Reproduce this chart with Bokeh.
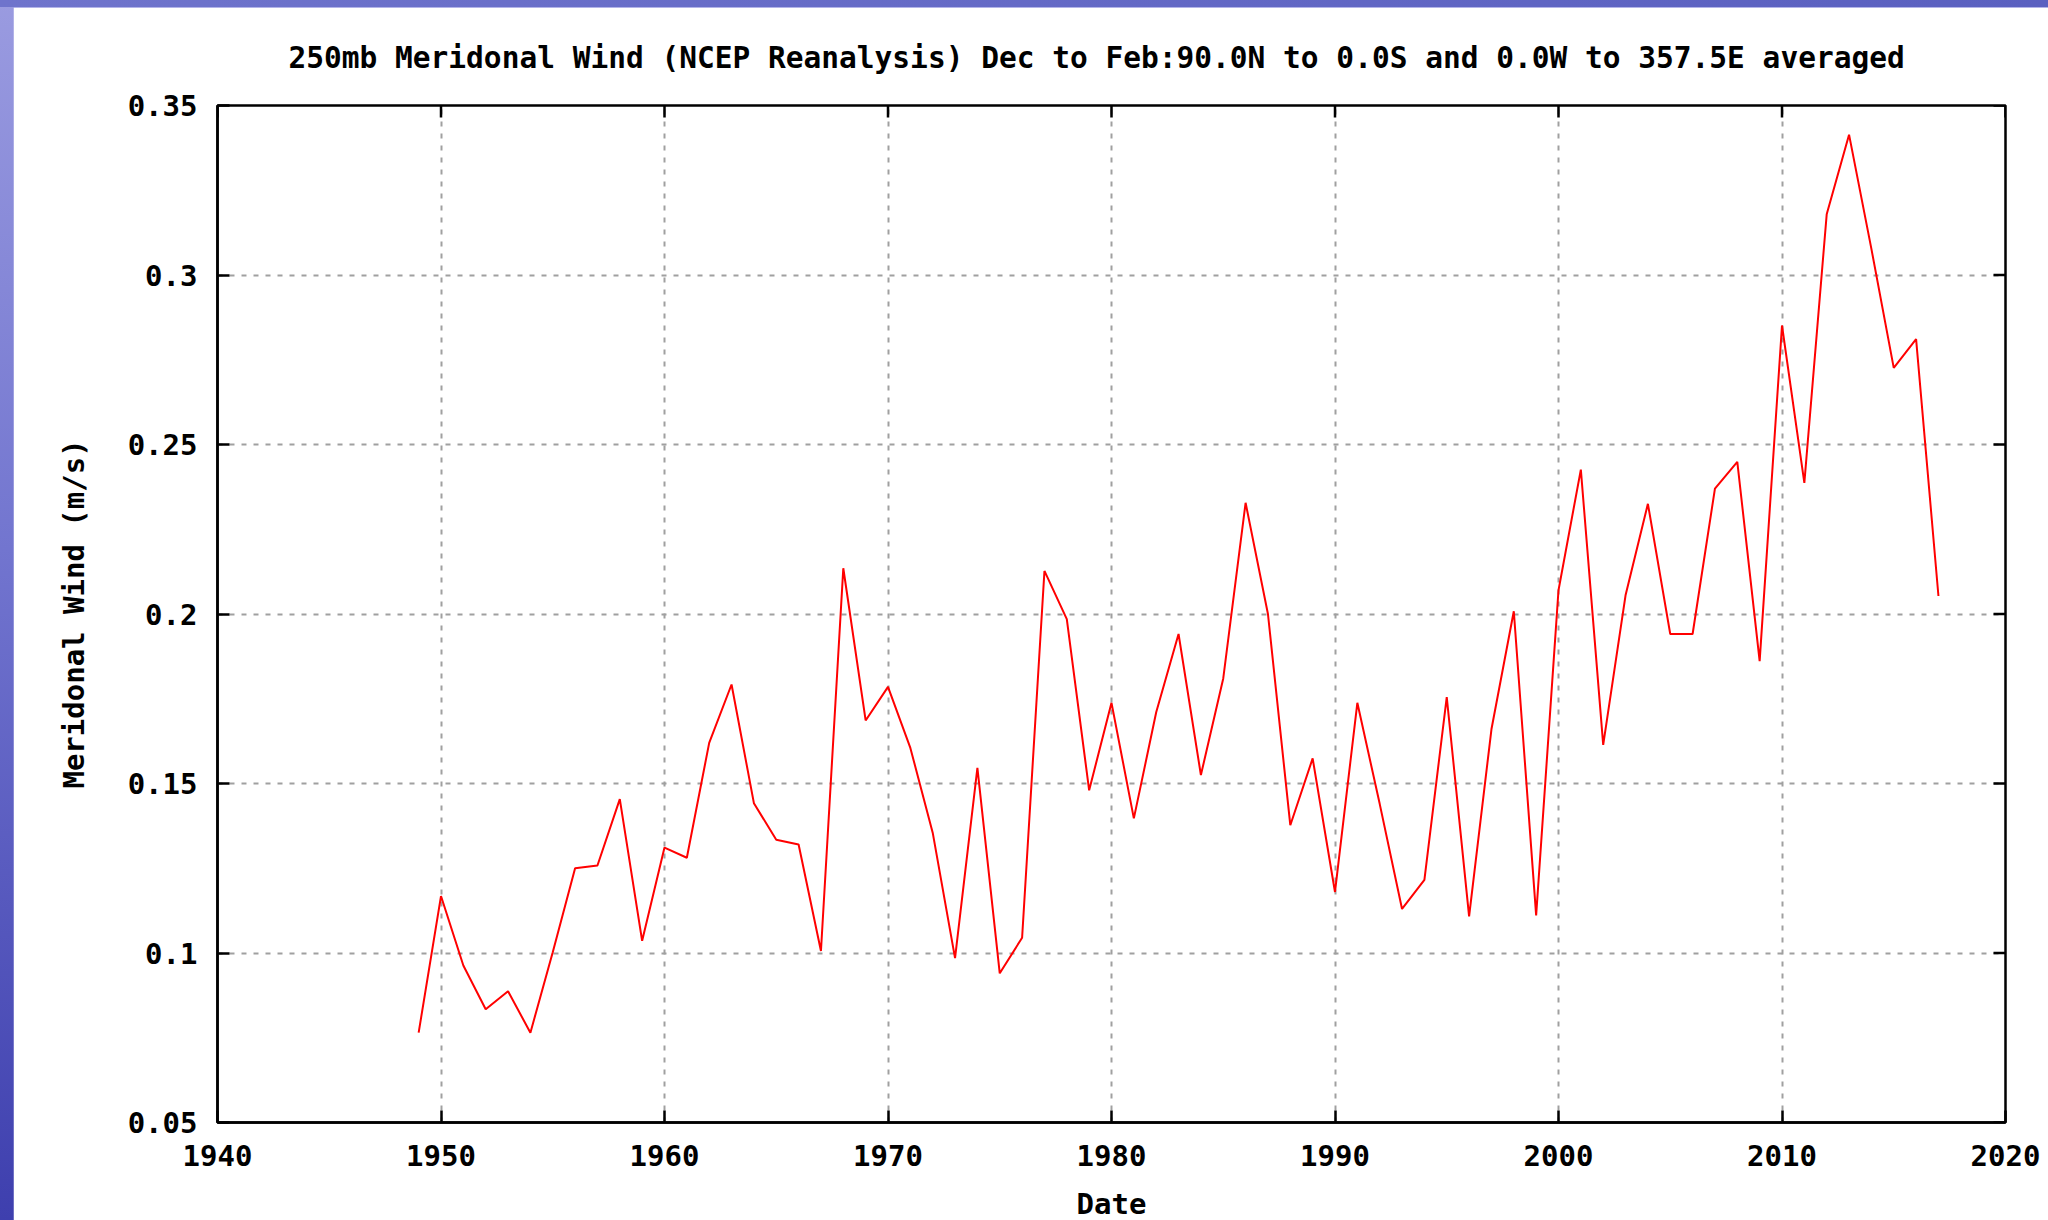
from bokeh.plotting import figure
from bokeh.models import Range1d, FixedTicker, ColumnDataSource, GlobalInlineStyleSheet
from bokeh.embed import file_html
from bokeh.resources import INLINE

# ---- data ----
years = list(range(1949, 2018))
wind = [
    0.0765, 0.1168, 0.0963, 0.0834, 0.0887, 0.0765, 0.1002, 0.1250, 0.1258, 0.1454,
    0.1036, 0.1311, 0.1281, 0.1620, 0.1792, 0.1442, 0.1334, 0.1320, 0.1006, 0.2135,
    0.1686, 0.1785, 0.1605, 0.1355, 0.0985, 0.1546, 0.0940, 0.1045, 0.2127, 0.1985,
    0.1480, 0.1738, 0.1397, 0.1710, 0.1941, 0.1525, 0.1810, 0.2328, 0.2000, 0.1377,
    0.1574, 0.1180, 0.1738, 0.1440, 0.1130, 0.1216, 0.1755, 0.1108, 0.1660, 0.2008,
    0.1111, 0.2070, 0.2426, 0.1614, 0.2055, 0.2325, 0.1941, 0.1941, 0.2370, 0.2449,
    0.1861, 0.2851, 0.2387, 0.3179, 0.3414, 0.3077, 0.2726, 0.2811, 0.2053,
]
x_ticks = [1940, 1950, 1960, 1970, 1980, 1990, 2000, 2010, 2020]
x_tick_labels = ["1940", "1950", "1960", "1970", "1980", "1990", "2000", "2010", "2020"]
y_ticks = [0.05, 0.1, 0.15, 0.2, 0.25, 0.3, 0.35]
y_tick_labels = ["0.05", "0.1", "0.15", "0.2", "0.25", "0.3", "0.35"]
title_text = "250mb Meridonal Wind (NCEP Reanalysis) Dec to Feb:90.0N to 0.0S and 0.0W to 357.5E averaged"
x_label = "Date"
y_label = "Meridonal Wind (m/s)"

FONT = "DejaVu Sans Mono"
FSIZE = "29px"

X0, X1 = 1940, 2020
Y0, Y1 = 0.05, 0.35
FW, FH = 1788, 1017
TICK_PX = 12

page_css = GlobalInlineStyleSheet(css="""
html, body { overflow: hidden !important; }
body {
  margin: 7px 0 0 13px !important;
  background:
    linear-gradient(to right, #6f74cc, #5a60c0) top / 100% 7px no-repeat,
    linear-gradient(to bottom, #9a9be0 0%, #7275cf 45%, #3e3fae 100%) !important;
}
""")

p = figure(
    frame_width=FW, frame_height=FH,
    x_range=Range1d(X0, X1), y_range=Range1d(Y0, Y1),
    output_backend="svg", toolbar_location=None,
    min_border_left=204, min_border_top=98, min_border_right=43, min_border_bottom=97,
    background_fill_color="white", border_fill_color="white",
    title=title_text,
)
p.stylesheets = [page_css]

p.title.align = "left"
p.title.offset = 71
p.title.text_font = FONT
p.title.text_font_style = "bold"
p.title.text_font_size = "29.5px"
p.title.text_color = "black"
p.title.standoff = 61

p.outline_line_color = "black"
p.outline_line_width = 2.5

# grid
for g, ticks in ((p.xgrid[0], x_ticks), (p.ygrid[0], y_ticks)):
    g.ticker = FixedTicker(ticks=ticks)
    g.grid_line_color = "#a0a0a0"
    g.grid_line_width = 2
    g.grid_line_dash = "5 7"

# mirrored inward ticks on top and right edges
dy = (Y1 - Y0) * TICK_PX / FH
dx = (X1 - X0) * TICK_PX / FW
p.segment(x0=x_ticks, y0=[Y1] * len(x_ticks), x1=x_ticks, y1=[Y1 - dy] * len(x_ticks),
          line_color="black", line_width=2.5)
p.segment(x0=[X1] * len(y_ticks), y0=y_ticks, x1=[X1 - dx] * len(y_ticks), y1=y_ticks,
          line_color="black", line_width=2.5)

src = ColumnDataSource(data=dict(year=years, wind=wind))
p.line("year", "wind", source=src, line_color="#ff0000", line_width=2)

def style_axis(ax):
    ax.axis_line_color = "black"
    ax.axis_line_width = 2.5
    ax.major_tick_line_color = "black"
    ax.major_tick_line_width = 2.5
    ax.major_tick_in = TICK_PX
    ax.major_tick_out = 0
    ax.minor_tick_line_color = None
    ax.major_label_text_font = FONT
    ax.major_label_text_font_style = "bold"
    ax.major_label_text_color = "black"
    ax.major_label_text_font_size = FSIZE
    ax.axis_label_text_font = FONT
    ax.axis_label_text_font_style = "bold"
    ax.axis_label_text_font_size = FSIZE
    ax.axis_label_text_color = "black"

xa = p.xaxis[0]
xa.ticker = FixedTicker(ticks=x_ticks)
xa.major_label_overrides = {t: s for t, s in zip(x_ticks, x_tick_labels)}
xa.axis_label = x_label
style_axis(xa)
xa.major_label_standoff = 22
xa.axis_label_standoff = 18

ya = p.yaxis[0]
ya.ticker = FixedTicker(ticks=y_ticks)
ya.major_label_overrides = {t: s for t, s in zip(y_ticks, y_tick_labels)}
ya.axis_label = y_label
style_axis(ya)
ya.major_label_standoff = 20
ya.axis_label_standoff = 34

open("out.html", "w").write(file_html(p, INLINE))
